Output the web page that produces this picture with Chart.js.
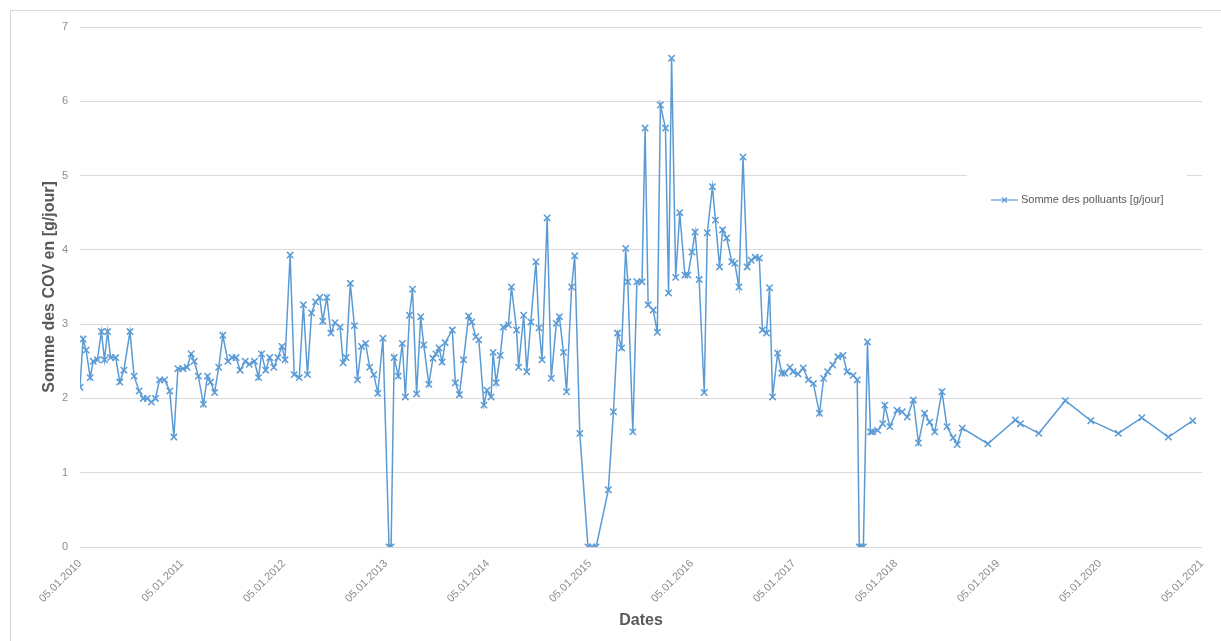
<!DOCTYPE html>
<html>
<head>
<meta charset="utf-8">
<script src="https://cdn.jsdelivr.net/npm/chart.js@4.4.1/dist/chart.umd.min.js"></script>
<style>
  html, body { margin: 0; padding: 0; background: #ffffff; }
  #wrap { width: 1221px; height: 641px; position: relative; overflow: hidden; }
  canvas { display: block; }
</style>
</head>
<body>
<div id="wrap"><canvas id="chart" width="1221" height="641"></canvas></div>
<script>
// Sampling dates as decimal years (2010.00 = 05.01.2010)
const sampleDates = [
  2010.00, 2010.03, 2010.06, 2010.10, 2010.13, 2010.17, 2010.21, 2010.24, 2010.27, 2010.30,
  2010.35, 2010.39, 2010.43, 2010.49, 2010.53, 2010.58, 2010.62, 2010.66, 2010.70, 2010.74,
  2010.78, 2010.83, 2010.88, 2010.92, 2010.96, 2011.01, 2011.05, 2011.09, 2011.12, 2011.16,
  2011.21, 2011.25, 2011.28, 2011.32, 2011.36, 2011.40, 2011.45, 2011.49, 2011.53, 2011.57,
  2011.62, 2011.66, 2011.71, 2011.75, 2011.78, 2011.82, 2011.86, 2011.90, 2011.94, 2011.98,
  2012.01, 2012.06, 2012.10, 2012.15, 2012.19, 2012.23, 2012.27, 2012.31, 2012.35, 2012.38,
  2012.42, 2012.46, 2012.50, 2012.55, 2012.58, 2012.61, 2012.65, 2012.69, 2012.72, 2012.76,
  2012.80, 2012.84, 2012.88, 2012.92, 2012.97, 2013.03, 2013.05, 2013.08, 2013.12, 2013.16,
  2013.19, 2013.23, 2013.26, 2013.30, 2013.34, 2013.37, 2013.42, 2013.46, 2013.49, 2013.52,
  2013.55, 2013.58, 2013.65, 2013.68, 2013.72, 2013.76, 2013.81, 2013.84, 2013.88, 2013.91,
  2013.96, 2013.99, 2014.03, 2014.05, 2014.08, 2014.12, 2014.15, 2014.20, 2014.23, 2014.28,
  2014.30, 2014.35, 2014.38, 2014.42, 2014.47, 2014.50, 2014.53, 2014.58, 2014.62, 2014.67,
  2014.70, 2014.74, 2014.77, 2014.82, 2014.85, 2014.90, 2014.98, 2015.02, 2015.06, 2015.18,
  2015.23, 2015.27, 2015.31, 2015.35, 2015.37, 2015.42, 2015.46, 2015.51, 2015.54, 2015.57,
  2015.62, 2015.66, 2015.69, 2015.74, 2015.77, 2015.80, 2015.84, 2015.88, 2015.93, 2015.96,
  2016.00, 2016.03, 2016.07, 2016.12, 2016.15, 2016.20, 2016.23, 2016.27, 2016.30, 2016.34,
  2016.39, 2016.42, 2016.46, 2016.50, 2016.54, 2016.58, 2016.62, 2016.66, 2016.69, 2016.73,
  2016.76, 2016.79, 2016.84, 2016.88, 2016.91, 2016.96, 2016.99, 2017.04, 2017.09, 2017.14,
  2017.19, 2017.25, 2017.29, 2017.33, 2017.38, 2017.43, 2017.48, 2017.52, 2017.58, 2017.62,
  2017.64, 2017.66, 2017.68, 2017.72, 2017.75, 2017.77, 2017.82, 2017.87, 2017.89, 2017.94,
  2018.01, 2018.06, 2018.11, 2018.17, 2018.22, 2018.28, 2018.33, 2018.38, 2018.45, 2018.50,
  2018.56, 2018.60, 2018.65, 2018.90, 2019.17, 2019.22, 2019.40, 2019.66, 2019.91, 2020.18,
  2020.41, 2020.67, 2020.91
];

// Somme des polluants [g/jour]
const pollutantSum = [
  2.15, 2.80, 2.65, 2.28, 2.50, 2.52, 2.90, 2.52, 2.90, 2.55,
  2.55, 2.22, 2.38, 2.90, 2.30, 2.10, 2.00, 2.00, 1.95, 2.00,
  2.25, 2.25, 2.10, 1.48, 2.40, 2.40, 2.42, 2.60, 2.50, 2.30,
  1.92, 2.30, 2.22, 2.08, 2.42, 2.85, 2.50, 2.55, 2.55, 2.38,
  2.50, 2.46, 2.50, 2.28, 2.60, 2.38, 2.55, 2.42, 2.55, 2.70,
  2.52, 3.93, 2.32, 2.28, 3.26, 2.32, 3.15, 3.30, 3.36, 3.04,
  3.36, 2.88, 3.02, 2.96, 2.48, 2.55, 3.55, 2.98, 2.25, 2.70,
  2.74, 2.42, 2.32, 2.07, 2.81, 0.00, 0.00, 2.55, 2.30, 2.74,
  2.02, 3.12, 3.47, 2.06, 3.10, 2.72, 2.19, 2.54, 2.60, 2.68,
  2.49, 2.75, 2.92, 2.21, 2.05, 2.52, 3.11, 3.03, 2.83, 2.79,
  1.91, 2.11, 2.02, 2.62, 2.21, 2.58, 2.96, 2.99, 3.50, 2.92,
  2.42, 3.12, 2.36, 3.03, 3.84, 2.95, 2.52, 4.43, 2.27, 3.01,
  3.10, 2.62, 2.09, 3.50, 3.92, 1.53, 0.00, 0.00, 0.00, 0.77,
  1.82, 2.88, 2.68, 4.02, 3.57, 1.55, 3.57, 3.57, 5.64, 3.26,
  3.19, 2.89, 5.95, 5.64, 3.42, 6.58, 3.63, 4.50, 3.66, 3.66,
  3.97, 4.24, 3.60, 2.08, 4.23, 4.85, 4.40, 3.77, 4.27, 4.16,
  3.84, 3.82, 3.50, 5.25, 3.77, 3.86, 3.90, 3.89, 2.92, 2.88,
  3.49, 2.02, 2.61, 2.34, 2.34, 2.42, 2.36, 2.33, 2.41, 2.25,
  2.20, 1.80, 2.27, 2.36, 2.45, 2.56, 2.58, 2.36, 2.31, 2.25,
  0.00, 0.00, 0.00, 2.76, 1.55, 1.55, 1.57, 1.66, 1.91, 1.62,
  1.84, 1.82, 1.75, 1.98, 1.40, 1.80, 1.68, 1.55, 2.09, 1.62,
  1.47, 1.38, 1.60, 1.39, 1.71, 1.66, 1.53, 1.97, 1.70, 1.53,
  1.74, 1.48, 1.70
];

// Yearly date ticks on the horizontal axis
const tickYears = [2010, 2011, 2012, 2013, 2014, 2015, 2016, 2017, 2018, 2019, 2020, 2021];
const tickLabels = ['05.01.2010', '05.01.2011', '05.01.2012', '05.01.2013', '05.01.2014', '05.01.2015',
                    '05.01.2016', '05.01.2017', '05.01.2018', '05.01.2019', '05.01.2020', '05.01.2021'];

const seriesName = 'Somme des polluants [g/jour]';
const yTitle = 'Somme des COV en [g/jour]';
const xTitle = 'Dates';

const lineBlue = '#5b9bd5';
const gridGrey = '#d9d9d9';
const textGrey = '#595959';
const tickGrey = '#8c8c8c';

Chart.defaults.font.family = "'Liberation Sans', Arial, sans-serif";

// Light frame around the whole chart
const framePlugin = {
  id: 'frame',
  beforeDraw(chart) {
    const ctx = chart.ctx;
    ctx.save();
    ctx.fillStyle = '#ffffff';
    ctx.fillRect(0, 0, chart.width, chart.height);
    ctx.strokeStyle = '#d9d9d9';
    ctx.lineWidth = 1;
    ctx.strokeRect(10.5, 10.5, chart.width + 20, chart.height + 20);
    ctx.restore();
  }
};

// Legend placed inside the plot on the right
const insideLegend = {
  id: 'insideLegend',
  afterDraw(chart) {
    const ctx = chart.ctx;
    const ds = chart.data.datasets[0];
    ctx.save();
    ctx.fillStyle = '#ffffff';
    ctx.fillRect(967, 169, 220, 62);
    const y = 200;
    ctx.strokeStyle = ds.borderColor;
    ctx.lineWidth = 1.2;
    ctx.beginPath();
    ctx.moveTo(991, y);
    ctx.lineTo(1018, y);
    ctx.stroke();
    Chart.helpers.drawPoint(ctx, {
      pointStyle: 'crossRot', radius: 3.5, rotation: 0, borderWidth: 1.2
    }, 1004.5, y);
    ctx.font = "11px 'Liberation Sans', Arial, sans-serif";
    ctx.fillStyle = textGrey;
    ctx.textBaseline = 'middle';
    ctx.textAlign = 'left';
    ctx.fillText(ds.label, 1021, y);
    ctx.restore();
  }
};

const points = sampleDates.map((d, i) => ({ x: d, y: pollutantSum[i] }));

new Chart(document.getElementById('chart'), {
  type: 'line',
  data: {
    datasets: [{
      label: seriesName,
      data: points,
      borderColor: lineBlue,
      backgroundColor: lineBlue,
      borderWidth: 1.5,
      pointStyle: 'crossRot',
      pointRadius: 4.5,
      pointBorderWidth: 1.5,
      pointBorderColor: lineBlue,
      tension: 0,
      fill: false
    }]
  },
  options: {
    responsive: false,
    animation: false,
    devicePixelRatio: 1,
    layout: { padding: { left: 40, top: 27, right: 19, bottom: 11 } },
    plugins: {
      legend: { display: false },
      tooltip: { enabled: false }
    },
    scales: {
      x: {
        type: 'linear',
        min: tickYears[0],
        max: tickYears[tickYears.length - 1],
        afterBuildTicks(scale) {
          scale.ticks = tickYears.map(v => ({ value: v }));
        },
        afterFit(scale) { scale.height = 83; },
        grid: { display: false },
        border: { display: false },
        ticks: {
          autoSkip: false,
          maxRotation: 45,
          minRotation: 45,
          padding: 2,
          color: tickGrey,
          font: { size: 11 },
          callback(value) {
            const i = tickYears.indexOf(value);
            return i >= 0 ? tickLabels[i] : '';
          }
        },
        title: {
          display: true,
          text: xTitle,
          color: textGrey,
          font: { size: 16, weight: 'bold' },
          padding: 0
        }
      },
      y: {
        min: 0,
        max: 7,
        afterFit(scale) { scale.width = 40; },
        grid: { color: gridGrey, lineWidth: 1, drawTicks: false },
        border: { display: false },
        ticks: {
          stepSize: 1,
          padding: 12,
          color: tickGrey,
          font: { size: 11 }
        },
        title: {
          display: true,
          text: yTitle,
          color: textGrey,
          font: { size: 16, weight: 'bold' },
          padding: 0
        }
      }
    }
  },
  plugins: [framePlugin, insideLegend]
});
</script>
</body>
</html>
